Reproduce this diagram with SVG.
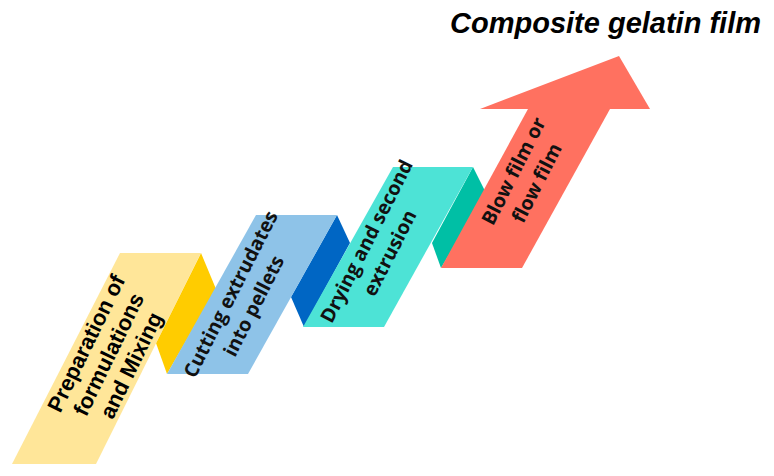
<svg xmlns="http://www.w3.org/2000/svg" width="774" height="476" viewBox="0 0 774 476">
<style>
.t{font-family:"Liberation Sans",Arial,sans-serif;font-weight:bold;fill:#000;text-anchor:middle}
.o{font-family:"Open Sans","Liberation Sans",sans-serif;font-weight:bold;fill:#111;text-anchor:middle;font-size:19.5px}
</style>
<rect width="774" height="476" fill="#fff"/>
<g id="step1">
<polygon points="201,253 216,289 167,374 156,343" fill="#FFCC00"/>
<polygon points="120,253 201,253 96,464 12,464" fill="#FFE699"/>
<text class="t" font-size="22" transform="translate(110,355) rotate(-64)"><tspan x="0" y="-19">Preparation of</tspan><tspan x="0" y="6">formulations</tspan><tspan x="0" y="31">and Mixing</tspan></text>
</g>
<g id="step2">
<polygon points="337,215 350,243 304,327 291,297" fill="#0066C4"/>
<polygon points="256,215 337,215 248,374 167,374" fill="#8EC3E8"/>
<text class="o" transform="translate(242,300) rotate(-63)"><tspan x="0" y="-6">Cutting extrudates</tspan><tspan x="0" y="20">into pellets</tspan></text>
</g>
<g id="step3">
<polygon points="473,167 486,193 441,268 432,243" fill="#00BFA5"/>
<polygon points="393,167 473,167 384,327 303,327" fill="#4DE3D6"/>
<text class="o" transform="translate(378,247) rotate(-63)"><tspan x="0" y="-6">Drying and second</tspan><tspan x="0" y="20">extrusion</tspan></text>
</g>
<g id="step4">
<polygon points="528,109 610,109 522,268 441,268" fill="#FF7160"/>
<polygon points="480,109 619,56 650,109" fill="#FF7160"/>
<text class="o" transform="translate(525,177) rotate(-63)"><tspan x="0" y="-6">Blow film or</tspan><tspan x="0" y="20">flow film</tspan></text>
</g>
<g id="connectors"></g>
<text id="title" class="t" font-size="29" font-style="italic" x="761" y="33" style="text-anchor:end">Composite gelatin film</text>
</svg>
